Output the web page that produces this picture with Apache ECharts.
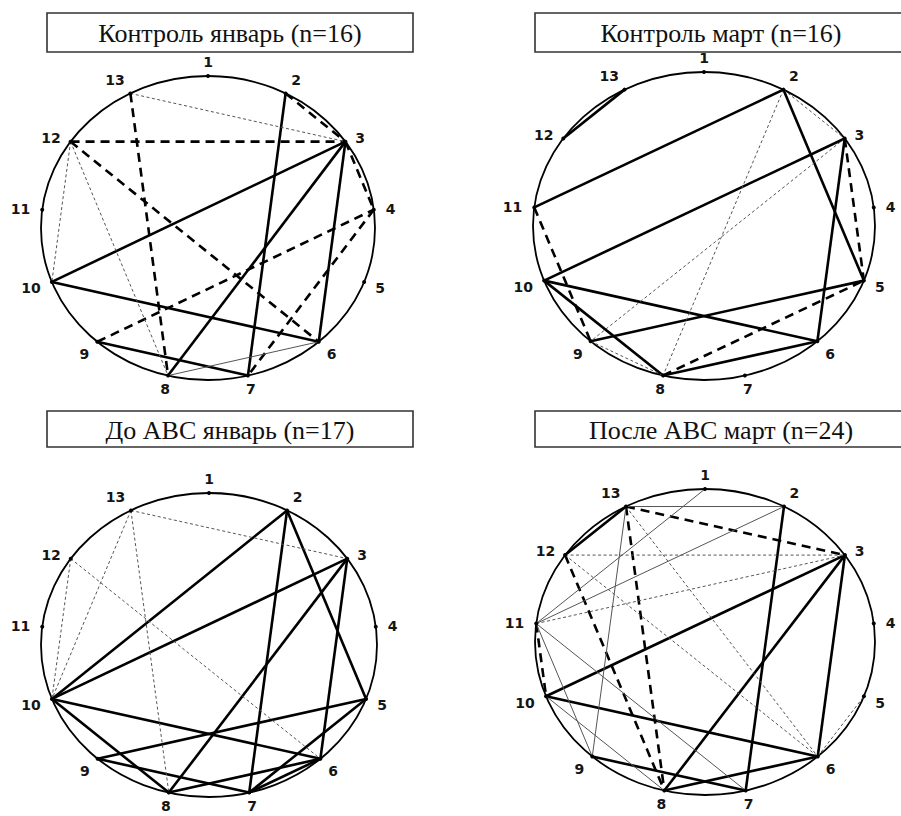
<!DOCTYPE html>
<html><head><meta charset="utf-8">
<script src="https://cdn.jsdelivr.net/npm/echarts@6/dist/echarts.min.js"></script>
<style>html,body{margin:0;padding:0;background:#fff}#c{width:901px;height:816px}</style>
</head><body><div id="c"></div>
<script>
// ---------- DATA ----------
const nodeLabels = ['1','2','3','4','5','6','7','8','9','10','11','12','13'];
const panelTitles = ['Контроль январь (n=16)', 'Контроль март (n=16)', 'До АВС январь (n=17)', 'После АВС март (n=24)'];
// correlation links: [node, node, kind]; kind: P strong positive, N strong negative, p moderate positive, n moderate negative
const linksControlJan = [
  [2,7,'P'],[3,10,'P'],[3,8,'P'],[3,6,'P'],[10,6,'P'],[9,7,'P'],
  [2,3,'N'],[12,3,'N'],[13,8,'N'],[12,6,'N'],[3,4,'N'],[9,4,'N'],[4,7,'N'],
  [13,3,'n'],[12,10,'n'],[12,8,'n'],
  [8,6,'p']
];
const linksControlMar = [
  [13,12,'P'],[2,11,'P'],[3,10,'P'],[2,5,'P'],[3,6,'P'],[10,6,'P'],[10,8,'P'],[9,5,'P'],[8,6,'P'],
  [3,5,'N'],[11,9,'N'],[8,5,'N'],
  [2,8,'n'],[2,3,'n'],[3,9,'n'],[9,8,'n']
];
const linksBeforeJan = [
  [2,10,'P'],[3,10,'P'],[2,7,'P'],[2,5,'P'],[3,8,'P'],[3,6,'P'],[10,6,'P'],[10,8,'P'],[9,5,'P'],[9,7,'P'],[8,6,'P'],[7,6,'P'],[7,5,'P'],
  [13,3,'n'],[13,10,'n'],[13,8,'n'],[12,10,'n'],[12,6,'n']
];
const linksAfterMar = [
  [13,12,'P'],[2,7,'P'],[3,10,'P'],[3,8,'P'],[3,6,'P'],[10,6,'P'],[9,7,'P'],[8,6,'P'],
  [13,3,'N'],[13,8,'N'],[12,8,'N'],[11,10,'N'],
  [13,2,'p'],[13,9,'p'],[1,11,'p'],[2,11,'p'],[11,9,'p'],[11,7,'p'],[10,8,'p'],
  [12,3,'n'],[11,3,'n'],[13,6,'n'],[12,6,'n'],[6,5,'n']
];
const panelLinks = [linksControlJan, linksControlMar, linksBeforeJan, linksAfterMar];

// ---------- LAYOUT & STYLE ----------
const panels = [
  {cx:208, cy:228, rx:167, ry:152, box:{x:47,  y:13,  w:366, h:39}},
  {cx:704, cy:226, rx:171, ry:154, box:{x:535, y:13,  w:372, h:39}},
  {cx:209, cy:645, rx:168, ry:152, box:{x:47,  y:411, w:366, h:36}},
  {cx:705, cy:642, rx:170, ry:153, box:{x:535, y:411, w:372, h:36}}
];
const kindStyle = {
  P: {stroke:'#000', lineWidth:2.6},
  N: {stroke:'#000', lineWidth:2.6, lineDash:[9,6]},
  p: {stroke:'#555', lineWidth:1},
  n: {stroke:'#555', lineWidth:1, lineDash:[3,2.5]}
};
const N = nodeLabels.length;
function nodePos(k){ // k: 1-based node number -> unit circle point (clockwise from top)
  const a = Math.PI/2 - (k-1)*2*Math.PI/N;
  return [Math.cos(a), Math.sin(a)];
}

const grids=[], xAxes=[], yAxes=[], series=[], graphics=[];
panels.forEach((pn, i) => {
  grids.push({left:pn.cx-pn.rx, top:pn.cy-pn.ry, width:2*pn.rx, height:2*pn.ry});
  xAxes.push({gridIndex:i, type:'value', min:-1, max:1, show:false});
  yAxes.push({gridIndex:i, type:'value', min:-1, max:1, show:false});
  // outline
  series.push({
    type:'custom', xAxisIndex:i, yAxisIndex:i, silent:true, z:1,
    data:[[0,0]],
    renderItem:(params, api) => {
      const c = api.coord([0,0]); const s = api.size([1,1]);
      return {type:'ellipse', shape:{cx:c[0], cy:c[1], rx:s[0], ry:s[1]},
        style:{fill:'none', stroke:'#000', lineWidth:1.8}};
    }
  });
  // links
  const links = panelLinks[i];
  series.push({
    type:'custom', xAxisIndex:i, yAxisIndex:i, silent:true, z:2,
    data: links.map(l => [l[0], l[1]]),
    renderItem:(params, api) => {
      const l = links[params.dataIndex];
      const a = api.coord(nodePos(l[0])), b = api.coord(nodePos(l[1]));
      const st = Object.assign({fill:'none'}, kindStyle[l[2]]);
      return {type:'line', shape:{x1:a[0], y1:a[1], x2:b[0], y2:b[1]}, style:st};
    }
  });
  // nodes + labels
  series.push({
    type:'custom', xAxisIndex:i, yAxisIndex:i, silent:true, z:3,
    data: nodeLabels.map((lab, k) => nodePos(k+1)),
    renderItem:(params, api) => {
      const k = params.dataIndex;
      const u = nodePos(k+1);
      const p = api.coord(u);
      const cs = u[0], sn = u[1];
      let align='center', va='middle';
      if (cs > 0.3) align='left'; else if (cs < -0.3) align='right';
      if (sn > 0.6) va='bottom'; else if (sn < -0.6) va='top';
      const tx = p[0] + cs*12;
      const ty = p[1] - sn*7 + (va==='middle' && sn < 0 ? 4 : 0);
      return {type:'group', children:[
        {type:'circle', shape:{cx:p[0], cy:p[1], r:2}, style:{fill:'#000'}},
        {type:'text', x:tx, y:ty, style:{text:nodeLabels[k], fill:'#151515',
          fontFamily:'"DejaVu Sans", sans-serif', fontWeight:'bold', fontSize:14,
          align:align, verticalAlign:va}}
      ]};
    }
  });
  // title box
  const bx = pn.box;
  graphics.push({type:'rect', shape:{x:bx.x, y:bx.y, width:bx.w, height:bx.h},
    style:{fill:'#fff', stroke:'#333', lineWidth:1.6}, z:10});
  graphics.push({type:'text', x:bx.x+bx.w/2, y:bx.y+bx.h/2+1,
    style:{text:panelTitles[i], fill:'#111', fontFamily:'"Liberation Serif", "Times New Roman", serif',
      fontSize:26, align:'center', verticalAlign:'middle'}, z:11});
});

const chart = echarts.init(document.getElementById('c'), null, {renderer:'svg', width:901, height:816});
chart.setOption({
  animation:false,
  backgroundColor:'#fff',
  grid:grids, xAxis:xAxes, yAxis:yAxes,
  series:series,
  graphic:{elements:graphics}
});
</script></body></html>
